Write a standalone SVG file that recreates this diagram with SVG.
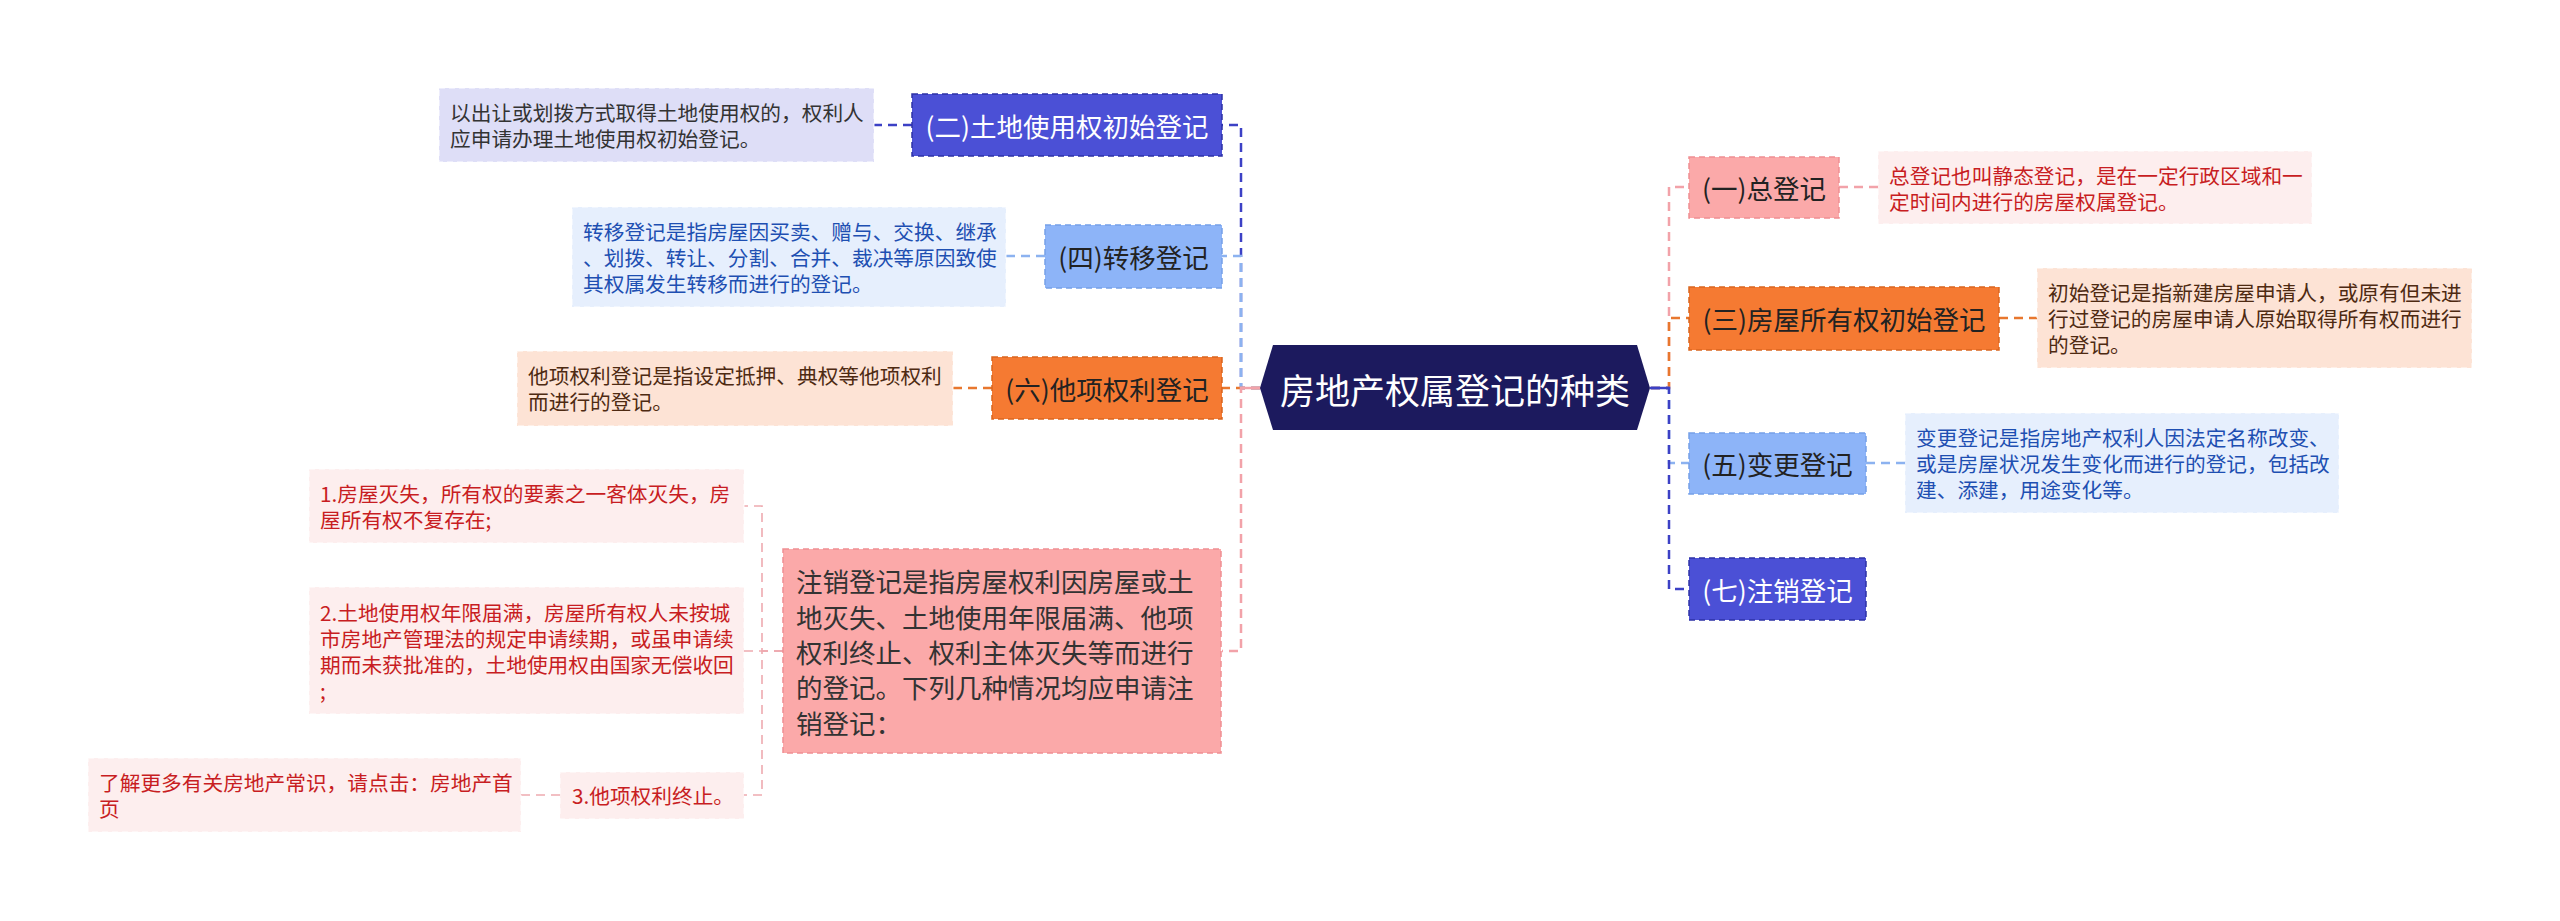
<svg xmlns="http://www.w3.org/2000/svg" width="2560" height="921" viewBox="0 0 2560 921">
<style>
text{font-family:"Noto Sans CJK SC","Noto Sans",sans-serif;dominant-baseline:central}
.t0{font-size:35px;fill:#ffffff;text-anchor:middle}
.t1{font-size:26.5px;text-anchor:middle}
.t1l{font-size:26.5px;fill:#333333}
.td{font-size:20.7px}
.w{fill:#ffffff}
.k{fill:#222222}
.red{fill:#c81d22}
.blu{fill:#1e4fb2}
.brn{fill:#4e2a12}
.gry{fill:#333333}
.bx{stroke-width:1.5;stroke-dasharray:6 4}
.dx{stroke:#ffffff;stroke-opacity:0.6;stroke-width:1.5;stroke-dasharray:6 4}
.c{fill:none;stroke-width:2.5;stroke-dasharray:9 6}
.cs{fill:none;stroke-width:1.6;stroke-dasharray:9 6}
.s{fill:none;stroke-width:2.5}
.dblue{stroke:#3c41c5}
.lblue{stroke:#8cb2f0}
.orng{stroke:#e8772e}
.pink{stroke:#f2a2a9}
.pink2{stroke:#eeaab0}
</style>
<rect width="2560" height="921" fill="#ffffff"/>
<g id="connectors">
<path class="c dblue" d="M1260,388 H1241 V125 H1222"/>
<path class="c lblue" d="M1260,388 H1241 V256 H1222"/>
<path class="c orng" d="M1260,388 H1222"/>
<path class="c pink" d="M1260,388 H1241 V651 H1222"/>
<path class="s pink" d="M1241,388 H1261"/>
<path class="c pink" d="M1651,388 H1669 V187 H1689"/>
<path class="c orng" d="M1651,388 H1669 V318 H1689"/>
<path class="c lblue" d="M1651,388 H1669 V463 H1689"/>
<path class="c dblue" d="M1651,388 H1669 V589 H1689"/>
<path class="s dblue" d="M1650,388 H1669"/>
<path class="c dblue" d="M912,125 H874"/>
<path class="c lblue" d="M1045,256 H1006"/>
<path class="c orng" d="M992,388 H953"/>
<path class="c pink" d="M1839,187 H1878"/>
<path class="c orng" d="M1999,318 H2037"/>
<path class="c lblue" d="M1866,463 H1905"/>
<path class="cs pink2" d="M783,651 H762 V506 H744"/>
<path class="cs pink2" d="M783,651 H744"/>
<path class="cs pink2" d="M783,651 H762 V795 H744"/>
<path class="cs pink2" d="M560,795 H521"/>
</g>
<g id="root">
<polygon points="1260,388 1273,345 1637,345 1650,388 1637,430 1273,430" fill="#1c1a5e"/>
<text class="t0" x="1455" y="388">房地产权属登记的种类</text>
</g>
<g id="n2">
<rect class="bx" x="912" y="94" width="310" height="62" fill="#4b50d6" stroke="#2e32a6"/>
<text class="t1 w" x="1067" y="125">(二)土地使用权初始登记</text>
</g>
<g id="d2">
<rect class="dx" x="439" y="88" width="435" height="74" fill="#dedef7"/>
<text class="td gry" x="450" y="112">以出让或划拨方式取得土地使用权的，权利人</text>
<text class="td gry" x="450" y="138">应申请办理土地使用权初始登记。</text>
</g>
<g id="n4">
<rect class="bx" x="1045" y="225" width="177" height="63" fill="#8db4f8" stroke="#75a0e8"/>
<text class="t1 k" x="1133.5" y="256">(四)转移登记</text>
</g>
<g id="d4">
<rect class="dx" x="572" y="207" width="434" height="100" fill="#e6effd"/>
<text class="td blu" x="583" y="231">转移登记是指房屋因买卖、赠与、交换、继承</text>
<text class="td blu" x="583" y="257">、划拨、转让、分割、合并、裁决等原因致使</text>
<text class="td blu" x="583" y="283">其权属发生转移而进行的登记。</text>
</g>
<g id="n6">
<rect class="bx" x="992" y="357" width="230" height="62" fill="#f57a32" stroke="#d9661f"/>
<text class="t1 k" x="1107" y="388">(六)他项权利登记</text>
</g>
<g id="d6">
<rect class="dx" x="517" y="351" width="436" height="75" fill="#fde3d5"/>
<text class="td brn" x="528" y="375">他项权利登记是指设定抵押、典权等他项权利</text>
<text class="td brn" x="528" y="401">而进行的登记。</text>
</g>
<g id="n8">
<rect class="bx" x="783" y="549" width="438" height="204" fill="#fba9a9" stroke="#f08e92"/>
<text class="t1l" x="796" y="580">注销登记是指房屋权利因房屋或土</text>
<text class="t1l" x="796" y="616">地灭失、土地使用年限届满、他项</text>
<text class="t1l" x="796" y="651">权利终止、权利主体灭失等而进行</text>
<text class="t1l" x="796" y="686">的登记。下列几种情况均应申请注</text>
<text class="t1l" x="796" y="722">销登记：</text>
</g>
<g id="s1">
<rect class="dx" x="309" y="469" width="435" height="74" fill="#fdeeee"/>
<text class="td red" x="320" y="493">1.房屋灭失，所有权的要素之一客体灭失，房</text>
<text class="td red" x="320" y="519">屋所有权不复存在;</text>
</g>
<g id="s2">
<rect class="dx" x="309" y="587" width="435" height="127" fill="#fdeeee"/>
<text class="td red" x="320" y="611.5">2.土地使用权年限届满，房屋所有权人未按城</text>
<text class="td red" x="320" y="637.5">市房地产管理法的规定申请续期，或虽申请续</text>
<text class="td red" x="320" y="663.5">期而未获批准的，土地使用权由国家无偿收回</text>
<text class="td red" x="320" y="689.5">;</text>
</g>
<g id="s3">
<rect class="dx" x="560" y="772" width="184" height="47" fill="#fdeeee"/>
<text class="td red" x="572" y="795">3.他项权利终止。</text>
</g>
<g id="s4">
<rect class="dx" x="88" y="758" width="433" height="74" fill="#fdeeee"/>
<text class="td red" x="99" y="782">了解更多有关房地产常识，请点击：房地产首</text>
<text class="td red" x="99" y="808">页</text>
</g>
<g id="n1">
<rect class="bx" x="1689" y="157" width="150" height="61" fill="#fba9a9" stroke="#f08e92"/>
<text class="t1 k" x="1764" y="187.5">(一)总登记</text>
</g>
<g id="d1">
<rect class="dx" x="1878" y="151" width="434" height="73" fill="#fdeeee"/>
<text class="td red" x="1889" y="174.5">总登记也叫静态登记，是在一定行政区域和一</text>
<text class="td red" x="1889" y="200.5">定时间内进行的房屋权属登记。</text>
</g>
<g id="n3">
<rect class="bx" x="1689" y="287" width="310" height="63" fill="#f57a32" stroke="#d9661f"/>
<text class="t1 k" x="1844" y="318.5">(三)房屋所有权初始登记</text>
</g>
<g id="d3">
<rect class="dx" x="2037" y="268" width="435" height="100" fill="#fde3d5"/>
<text class="td brn" x="2048" y="292">初始登记是指新建房屋申请人，或原有但未进</text>
<text class="td brn" x="2048" y="318">行过登记的房屋申请人原始取得所有权而进行</text>
<text class="td brn" x="2048" y="344">的登记。</text>
</g>
<g id="n5">
<rect class="bx" x="1689" y="433" width="177" height="61" fill="#8db4f8" stroke="#75a0e8"/>
<text class="t1 k" x="1777.5" y="463.5">(五)变更登记</text>
</g>
<g id="d5">
<rect class="dx" x="1905" y="413" width="434" height="100" fill="#e6effd"/>
<text class="td blu" x="1916" y="437">变更登记是指房地产权利人因法定名称改变、</text>
<text class="td blu" x="1916" y="463">或是房屋状况发生变化而进行的登记，包括改</text>
<text class="td blu" x="1916" y="489">建、添建，用途变化等。</text>
</g>
<g id="n7">
<rect class="bx" x="1689" y="558" width="177" height="62" fill="#4b50d6" stroke="#2e32a6"/>
<text class="t1 w" x="1777.5" y="589">(七)注销登记</text>
</g>
</svg>
